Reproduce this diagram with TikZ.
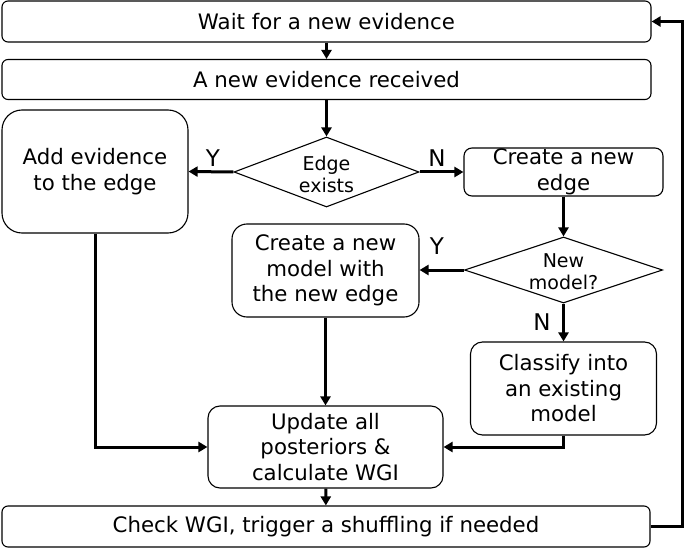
\documentclass[tikz,border=0pt]{standalone}
\usepackage{fontspec}
\setmainfont{DejaVu Sans}
\usetikzlibrary{shapes.geometric,arrows.meta}
\begin{document}
\begin{tikzpicture}[x=1pt,y=-1pt,
 box/.style={draw, line width=1.1pt, rounded corners=#1, align=center, inner sep=0pt, font=\fontsize{21.3}{25.5}\selectfont},
 box/.default=6pt,
 dia/.style={draw, diamond, line width=1.1pt, inner sep=0pt},
 diatext/.style={align=center, inner sep=0pt, font=\fontsize{19}{22}\selectfont},
 arr/.style={line width=3pt, -{Triangle[length=9pt,width=10pt]}},
 lab/.style={font=\fontsize{23}{23}\selectfont, inner sep=0pt}]
\useasboundingbox (0,0) rectangle (685,548);
\node[box, minimum width=649pt, minimum height=41pt] (wait) at (326.5,21.5) {Wait for a new evidence};
\node[box, minimum width=649pt, minimum height=40pt] (recv) at (326.5,79.5) {A new evidence received};
\node[box=20pt, minimum width=186pt, minimum height=123pt] (add) at (95,171.5) {Add evidence\\to the edge};
\node[dia, minimum width=185pt, minimum height=70pt] (edge) at (326.5,172) {};
\node[diatext] (edgetext) at (326.5,174) {Edge\\exists};
\node[box=8pt, minimum width=199pt, minimum height=48pt] (newedge) at (563.5,172) {Create a new\\edge};
\node[dia, minimum width=198pt, minimum height=66pt] (model) at (563.5,270) {};
\node[diatext] (modeltext) at (563.5,272) {New\\model?};
\node[box=15pt, minimum width=187pt, minimum height=93pt] (newmodel) at (325.5,270.5) {Create a new\\model with\\the new edge};
\node[box=12pt, minimum width=186pt, minimum height=93pt] (classify) at (563.5,388.5) {Classify into\\an existing\\model};
\node[box=12pt, minimum width=235pt, minimum height=82pt] (update) at (325.5,447) {Update all\\posteriors \&\\calculate WGI};
\node[box, minimum width=648pt, minimum height=41pt] (check) at (326,526.5) {Check WGI, trigger a shuffling if needed};
\draw[arr] (wait) -- (recv);
\draw[arr] (recv) -- (edge);
\draw[arr] (edge.west) -- (add.east);
\draw[arr] (edge.east) -- (newedge.west);
\draw[arr] (newedge) -- (model);
\draw[arr] (model.west) -- (newmodel.east |- model.west);
\draw[arr] (model.south) -- (classify.north);
\draw[arr] (newmodel) -- (update);
\draw[arr] (add.south) |- (update.west);
\draw[arr] (classify.south) |- (update.east);
\draw[arr] (update) -- (check);
\draw[arr] (check.east) -- ++(32,0) |- (wait.east);
\node[lab] (ly1) at (213,158) {Y};
\node[lab] (ln1) at (437,158) {N};
\node[lab] (ly2) at (437,246.5) {Y};
\node[lab] (ln2) at (542,322) {N};
\end{tikzpicture}
\end{document}
